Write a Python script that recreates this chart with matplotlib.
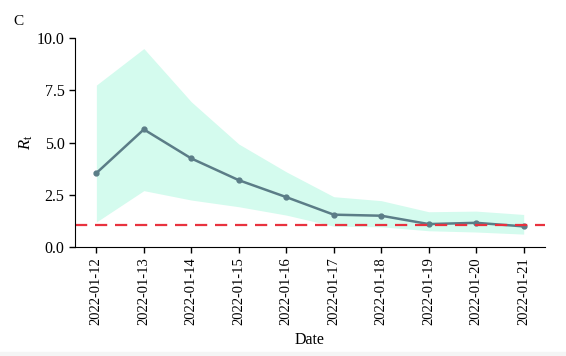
import matplotlib.pyplot as plt
from matplotlib.patches import Rectangle

plt.rcParams['font.family'] = ['Liberation Serif', 'DejaVu Serif']
plt.rcParams['mathtext.fontset'] = 'custom'
plt.rcParams['mathtext.rm'] = 'Liberation Serif'
plt.rcParams['mathtext.it'] = 'Liberation Serif:italic'

# data
dates = ['2022-01-12', '2022-01-13', '2022-01-14', '2022-01-15', '2022-01-16',
         '2022-01-17', '2022-01-18', '2022-01-19', '2022-01-20', '2022-01-21']
rt_mean = [3.54, 5.63, 4.24, 3.20, 2.39, 1.55, 1.50, 1.10, 1.16, 0.99]
rt_upper = [7.75, 9.50, 6.95, 4.93, 3.60, 2.41, 2.22, 1.69, 1.72, 1.56]
rt_lower = [1.20, 2.70, 2.25, 1.93, 1.53, 1.00, 0.97, 0.78, 0.72, 0.62]
threshold = 1.05

fig = plt.figure(figsize=(5.66, 3.56), dpi=100)
ax = fig.add_axes((0.1325, 0.306, 0.8305, 0.587))

x = list(range(len(dates)))
ax.fill_between(x, rt_lower, rt_upper, color='#d4fbee', lw=0)
ax.plot(x, rt_mean, color='#5b7d87', lw=1.8, marker='o', ms=3.5)
ax.axhline(threshold, color='#e8323f', lw=1.6, ls=(0, (5.5, 3.5)))

ax.set_ylim(0, 10)
ax.set_yticks([0, 2.5, 5, 7.5, 10])
ax.set_yticklabels(['0.0', '2.5', '5.0', '7.5', '10.0'])
ax.set_xticks(x)
ax.set_xticklabels(dates, rotation=90)
ax.tick_params(axis='y', labelsize=11.5, length=4, width=1)
ax.tick_params(axis='x', labelsize=10.5, length=4, width=1)
ax.spines['top'].set_visible(False)
ax.spines['right'].set_visible(False)
ax.set_xlabel('Date', fontsize=11.5, labelpad=5)
ax.set_ylabel(r'$R_{\mathrm{t}}$', fontsize=12, labelpad=1)

fig.text(0.024, 0.93, 'C', fontsize=11)
fig.patches.append(Rectangle((0, 0), 1, 0.012, transform=fig.transFigure,
                             color='#f4f5f5', zorder=-1))

plt.savefig('out.png', dpi=100)
